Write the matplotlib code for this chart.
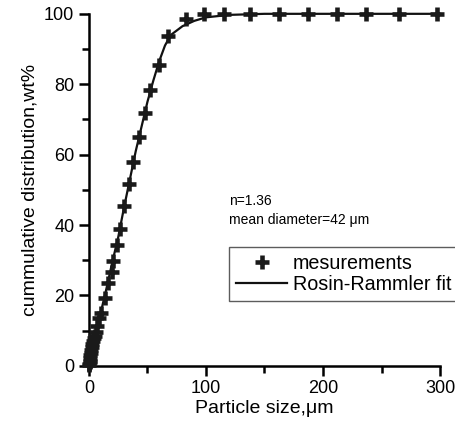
import numpy as np
import matplotlib.pyplot as plt
from matplotlib.ticker import MultipleLocator

plt.rcParams['font.family'] = ['Liberation Sans', 'DejaVu Sans']

# measured points (particle size in um, cumulative wt%)
meas_x = [0.2, 0.4, 0.6, 0.8, 1.0, 1.3, 1.6, 2.0, 2.5, 3.0, 3.7, 4.4, 5.1,
          6.2, 7.1, 8.5, 10.0, 13.4, 16.5, 19.4, 21.0, 23.7, 26.5, 30.2,
          34.2, 37.9, 42.5, 47.9, 52.1, 59.8, 67.8, 82.9, 98.3, 115.6,
          137.6, 162.6, 187.4, 212.2, 236.8, 265.2, 297.7]
meas_y = [0.2, 0.5, 1.0, 1.5, 2.2, 3.0, 3.8, 4.6, 5.5, 6.2, 7.0, 7.8, 8.4,
          9.7, 11.2, 13.5, 15.0, 19.2, 23.6, 26.6, 29.8, 34.4, 38.8, 45.3,
          51.7, 58.0, 65.1, 71.8, 78.4, 85.5, 93.8, 98.6, 100, 100,
          100, 100, 100, 100, 100, 100, 100]

# fitted curve
fit_x = [0, 2, 5, 10, 15, 20, 25, 30, 35, 40, 45, 50, 55, 60, 65, 70, 80,
         90, 100, 120, 150, 300]
fit_y = [0, 3, 8, 15, 22, 29.5, 36.5, 45, 53, 61, 68, 75, 81, 86.5, 91,
         94, 96.5, 98, 99, 99.7, 100, 100]

fig = plt.figure(figsize=(4.56, 4.32), dpi=100)
ax = fig.add_axes([0.195, 0.153, 0.77, 0.815])

ax.plot(fit_x, fit_y, color='#111111', lw=1.6, label='Rosin-Rammler fit',
        clip_on=False, zorder=2)
ax.plot(meas_x, meas_y, ls='none', marker='+', ms=9.5, mew=3.3,
        color='#1a1a1a', label='mesurements', clip_on=False, zorder=3)

ax.set_xlim(0, 300)
ax.set_ylim(0, 100)
ax.xaxis.set_major_locator(MultipleLocator(100))
ax.xaxis.set_minor_locator(MultipleLocator(50))
ax.yaxis.set_major_locator(MultipleLocator(20))
ax.yaxis.set_minor_locator(MultipleLocator(10))

for s in ['top', 'right']:
    ax.spines[s].set_visible(False)
for s in ['left', 'bottom']:
    ax.spines[s].set_linewidth(1.8)
ax.tick_params(which='major', direction='out', length=7, width=1.8,
               labelsize=13)
ax.tick_params(which='minor', direction='out', length=5, width=1.8)

ax.set_xlabel('Particle size,\u03bcm', fontsize=14, labelpad=2)
ax.set_ylabel('cummulative distribution,wt%', fontsize=14, labelpad=4)

ax.text(0.40, 0.395, 'n=1.36\nmean diameter=42 \u03bcm', transform=ax.transAxes,
        fontsize=10, va='bottom', ha='left', linespacing=1.4)

handles, labels = ax.get_legend_handles_labels()
leg = ax.legend(handles[::-1], labels[::-1], loc='upper left',
                bbox_to_anchor=(0.399, 0.338), fontsize=14.2, frameon=True,
                fancybox=False, edgecolor='#333333', handlelength=2.6,
                borderpad=0.35, labelspacing=0.12, handletextpad=0.3,
                borderaxespad=0)
leg.get_frame().set_linewidth(1.0)
leg.set_clip_on(False)

fig.savefig('out.png', dpi=100)
